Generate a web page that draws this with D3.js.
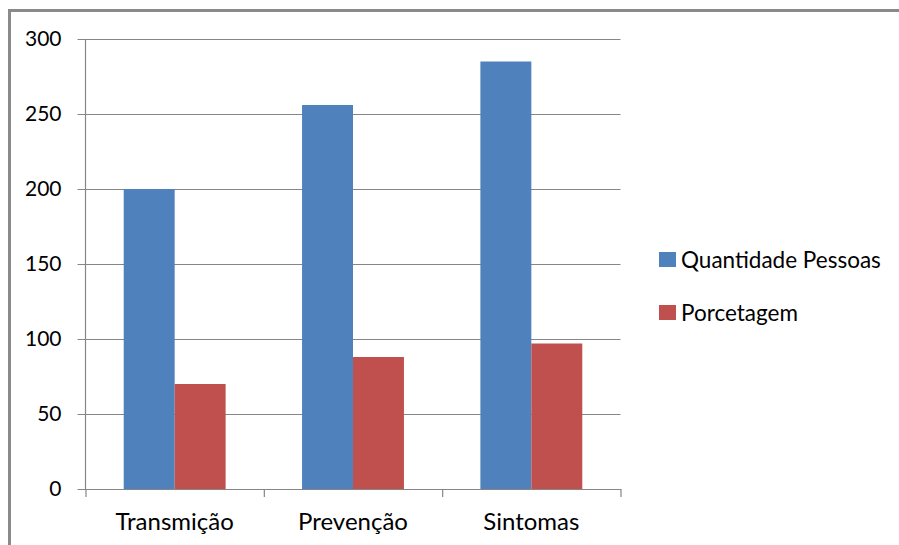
<!DOCTYPE html>
<html>
<head>
<meta charset="utf-8">
<script src="https://cdn.jsdelivr.net/npm/d3@7"></script>
<style>
  html, body { margin: 0; padding: 0; background: #fff; }
  svg { display: block; }
  text { font-family: Lato, "Open Sans", sans-serif; fill: #000; }
</style>
</head>
<body>
<svg id="chart" width="899" height="545"></svg>
<script>
// Survey answers per topic
const categories = ["Transmição", "Prevenção", "Sintomas"];
const seriesNames = ["Quantidade Pessoas", "Porcetagem"];
const quantidadePessoas = [200, 256, 285];
const porcetagem = [70, 88, 97];
const yTicks = [0, 50, 100, 150, 200, 250, 300];
const seriesColors = ["#4F81BD", "#C0504D"];

const seriesValues = [quantidadePessoas, porcetagem];

const svg = d3.select("#chart");
const plot = { left: 85.5, right: 620.5, top: 39, bottom: 489 };

// outer chart frame (only top and left edges fall inside the window)
svg.append("rect")
  .attr("x", 9.5).attr("y", 10.5)
  .attr("width", 1200).attr("height", 1200)
  .attr("fill", "none")
  .attr("stroke", "#8a8a8a")
  .attr("stroke-width", 3);

const y = d3.scaleLinear().domain([0, 300]).range([plot.bottom, plot.top]);
const x = d3.scaleBand().domain(categories).range([plot.left, plot.right]);

// two bars per category, gap width 150% of one bar on each side combined
const barW = x.step() / 3.5;
const xs = d3.scaleBand()
  .domain(seriesNames)
  .range([barW * 0.75, barW * 0.75 + barW * 2]);

// horizontal gridlines + tick labels
const yAxis = d3.axisLeft(y)
  .tickValues(yTicks)
  .tickSize(-(plot.right - plot.left))
  .tickSizeOuter(0)
  .tickPadding(24)
  .tickFormat(d3.format("d"));

const gY = svg.append("g")
  .attr("transform", `translate(${plot.left},0)`)
  .call(yAxis);
gY.select(".domain").remove();
gY.selectAll(".tick line")
  .attr("x1", -8)
  .attr("stroke", "#868686")
  .attr("stroke-width", 1.2);
gY.selectAll(".tick text")
  .style("font-size", "21px")
  .attr("dy", "0.3em");

// bars
const groups = svg.append("g").selectAll("g")
  .data(categories)
  .join("g")
  .attr("transform", d => `translate(${x(d)},0)`);

groups.selectAll("rect")
  .data((c, i) => seriesNames.map((s, j) => ({ s, v: seriesValues[j][i], j })))
  .join("rect")
  .attr("x", d => xs(d.s))
  .attr("width", xs.bandwidth())
  .attr("y", d => y(d.v))
  .attr("height", d => y(0) - y(d.v))
  .attr("fill", d => seriesColors[d.j]);

// vertical axis line
svg.append("line")
  .attr("x1", plot.left).attr("x2", plot.left)
  .attr("y1", plot.top).attr("y2", plot.bottom)
  .attr("stroke", "#868686").attr("stroke-width", 1.2);

// category axis with tick marks between categories
const xEdges = d3.scaleLinear().domain([0, categories.length]).range([plot.left, plot.right]);
const gX = svg.append("g")
  .attr("transform", `translate(0,${plot.bottom})`)
  .call(d3.axisBottom(xEdges).tickValues(d3.range(categories.length + 1)).tickSize(8).tickSizeOuter(0).tickFormat(""));
gX.select(".domain").attr("stroke", "#868686").attr("stroke-width", 1.2);
gX.selectAll(".tick line").attr("stroke", "#868686").attr("stroke-width", 1.2);

svg.append("g").selectAll("text")
  .data(categories)
  .join("text")
  .attr("x", d => x(d) + x.bandwidth() / 2)
  .attr("y", 530)
  .attr("text-anchor", "middle")
  .style("font-size", "24px")
  .text(d => d);

// legend
const legend = svg.append("g").selectAll("g")
  .data(seriesNames)
  .join("g")
  .attr("transform", (d, i) => `translate(659,${252 + i * 53})`);
legend.append("rect")
  .attr("width", 17).attr("height", 15)
  .attr("fill", (d, i) => seriesColors[i]);
legend.append("text")
  .attr("x", 22).attr("y", 15.5)
  .style("font-size", "22.5px")
  .text(d => d);
</script>
</body>
</html>
